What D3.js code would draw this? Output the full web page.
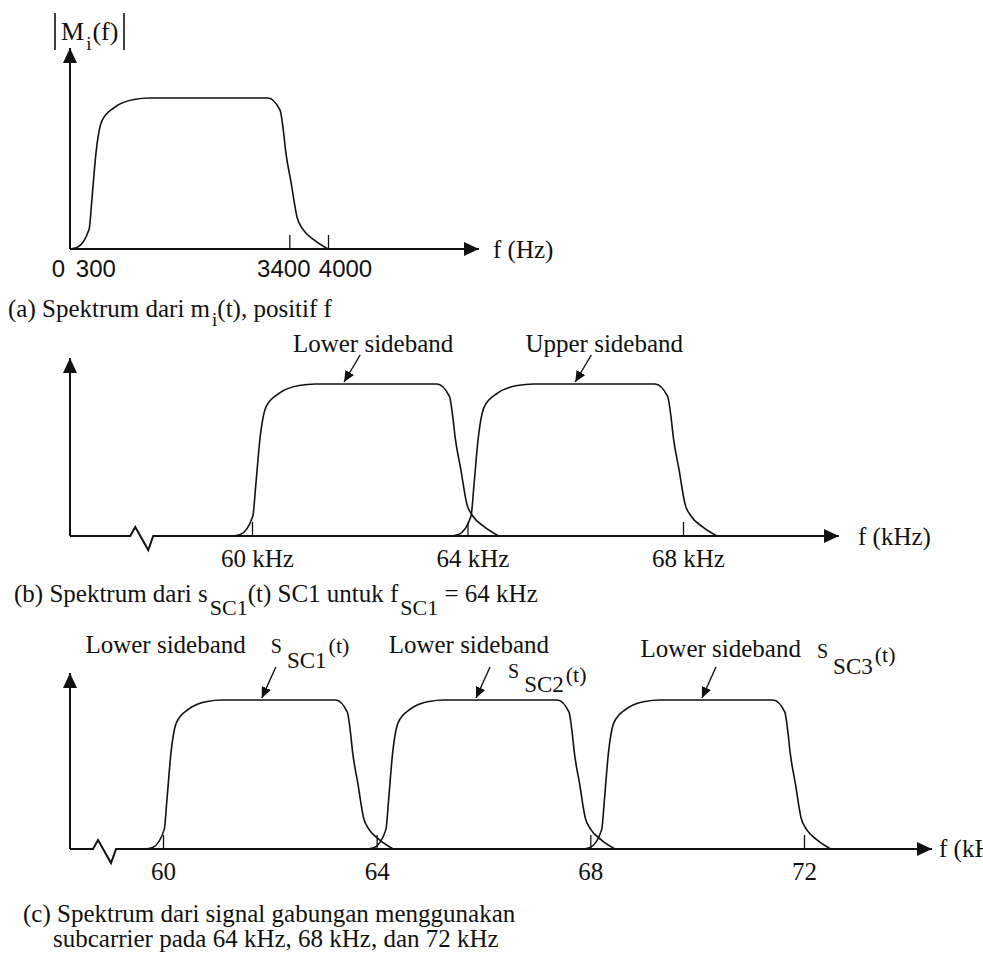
<!DOCTYPE html>
<html>
<head>
<meta charset="utf-8">
<script src="https://cdn.jsdelivr.net/npm/d3@7"></script>
<style>
  html, body { margin: 0; padding: 0; background: #fff; }
  svg { display: block; }
  text { font-family: "Liberation Serif", "DejaVu Serif", serif; fill: #111; white-space: pre; }
</style>
</head>
<body>
<svg id="chart" width="983" height="972"></svg>
<script>
// Baseband voice channel |M_i(f)|, positive f (Hz, relative magnitude)
const basebandHz = [0, 110, 296, 340, 404, 496, 696, 992, 1240, 3068, 3256, 3312, 3340, 3428, 3520, 3612, 3784, 4000];
const basebandAmp = [0, 0.01, 0.13, 0.33, 0.64, 0.85, 0.94, 0.99, 1, 1, 0.92, 0.77, 0.66, 0.44, 0.21, 0.13, 0.06, 0];
const basebandTicks = [3400, 4000];
const basebandLabelValues = [0, 300, 3400, 4000];
const basebandTickLabels = ['0', '300', '3400', '4000'];

// (b) one channel on the 64 kHz subcarrier (kHz)
const sc1BandStart = [59.65, 63.7];
const sc1BandWidth = 4.93;
const sc1Ticks = [60, 64, 68];
const sc1TickLabels = ['60 kHz', '64 kHz', '68 kHz'];
const sc1Notes = ['Lower sideband', 'Upper sideband'];
const sc1NoteAt = [61.71, 66.0];

// (c) three channels multiplexed (kHz)
const fdmBandStart = [59.68, 63.83, 67.87];
const fdmBandWidth = 4.63;
const fdmTicks = [60, 64, 68, 72];
const fdmTickLabels = ['60', '64', '68', '72'];
const fdmSubcarriers = ['SC1', 'SC2', 'SC3'];
const fdmNoteAt = [61.85, 65.86, 70.09];

const svg = d3.select('#chart');
const ink = '#111';

const defs = svg.append('defs');
function addHead(id, len, half) {
  defs.append('marker')
    .attr('id', id)
    .attr('viewBox', `0 0 ${len} ${half * 2}`)
    .attr('refX', len).attr('refY', half)
    .attr('markerWidth', len).attr('markerHeight', half * 2)
    .attr('markerUnits', 'userSpaceOnUse')
    .attr('orient', 'auto')
    .append('path')
    .attr('d', `M0,0L${len},${half}L0,${half * 2}Z`)
    .attr('fill', ink);
}
addHead('axisHead', 15, 7);
addHead('noteHead', 11, 5);

// one spectrum band, baseband shape stretched over [start, start + width]
function bandPath(x, y, start, width) {
  return d3.line()
    .x((f) => x(start + (f / 4000) * width))
    .y((f, i) => y(basebandAmp[i]))
    .curve(d3.curveMonotoneX)(basebandHz);
}

function drawFrame(g, o) {
  g.append('line')
    .attr('x1', o.left).attr('x2', o.left)
    .attr('y1', o.base).attr('y2', o.yTip)
    .attr('stroke', ink).attr('stroke-width', 2)
    .attr('marker-end', 'url(#axisHead)');

  const p = d3.path();
  p.moveTo(o.left, o.base);
  if (o.breakX != null) {
    p.lineTo(o.breakX, o.base);
    p.lineTo(o.breakX + 5, o.base - 9);
    p.lineTo(o.breakX + 18, o.base + 14);
    p.lineTo(o.breakX + 23, o.base);
  }
  p.lineTo(o.xTip, o.base);
  g.append('path')
    .attr('d', p.toString())
    .attr('fill', 'none')
    .attr('stroke', ink).attr('stroke-width', 2)
    .attr('marker-end', 'url(#axisHead)');
}

function drawTicks(g, x, base, values, labels, pad, font, size) {
  const ax = g.append('g')
    .attr('transform', `translate(0,${base})`)
    .attr('color', ink)
    .call(d3.axisBottom(x).tickValues(values)
      .tickFormat((d, i) => labels[i])
      .tickSize(-14).tickPadding(pad));
  ax.select('.domain').remove();
  ax.selectAll('line').attr('stroke-width', 1.3);
  ax.selectAll('text')
    .style('font-family', font)
    .style('font-size', size + 'px')
    .attr('fill', ink);
  return ax;
}

function drawBand(g, x, y, start, width) {
  g.append('path')
    .attr('d', bandPath(x, y, start, width))
    .attr('fill', 'none')
    .attr('stroke', ink)
    .attr('stroke-width', 1.6);
}

function drawPointer(g, x1, y1, x2, y2) {
  g.append('line')
    .attr('x1', x1).attr('y1', y1).attr('x2', x2).attr('y2', y2)
    .attr('stroke', ink).attr('stroke-width', 1.4)
    .attr('marker-end', 'url(#noteHead)');
}

// ---------- (a) baseband ----------
{
  const g = svg.append('g');
  const x = d3.scaleLinear().domain([0, 4000]).range([70, 328]);
  const y = d3.scaleLinear().domain([0, 1]).range([249, 98]);

  drawFrame(g, { left: 70, base: 249, yTip: 48, xTip: 479 });
  drawBand(g, x, y, 0, 4000);

  const ax = drawTicks(g, x, 249, basebandLabelValues, basebandTickLabels, 11,
    '"Liberation Sans", Arial, sans-serif', 24);
  ax.selectAll('.tick').filter((d) => !basebandTicks.includes(d)).select('line').remove();
  const nudge = { 0: -12, 300: 6, 3400: -6, 4000: 17 };
  ax.selectAll('text').attr('dx', (d) => nudge[d]);

  // |M_i(f)|
  g.append('line').attr('x1', 55).attr('x2', 55).attr('y1', 13).attr('y2', 50)
    .attr('stroke', ink).attr('stroke-width', 1.6);
  g.append('line').attr('x1', 124).attr('x2', 124).attr('y1', 13).attr('y2', 50)
    .attr('stroke', ink).attr('stroke-width', 1.6);
  const m = g.append('text').attr('x', 61).attr('y', 40).style('font-size', '26px');
  m.append('tspan').text('M');
  m.append('tspan').attr('dy', 10).attr('dx', 2).style('font-size', '19px').text('i');
  m.append('tspan').attr('dy', -10).attr('dx', 1).text('(f)');

  g.append('text').attr('x', 493).attr('y', 258).style('font-size', '25px').text('f (Hz)');

  const cap = g.append('text').attr('x', 8).attr('y', 317).style('font-size', '25px');
  cap.append('tspan').text('(a) Spektrum dari m');
  cap.append('tspan').attr('dy', 9).attr('dx', 2).style('font-size', '19px').text('i');
  cap.append('tspan').attr('dy', -9).text('(t), positif f');
}

// ---------- (b) SSB, subcarrier 64 kHz ----------
{
  const g = svg.append('g');
  const x = d3.scaleLinear().domain([60, 68]).range([252, 683]);
  const y = d3.scaleLinear().domain([0, 1]).range([536, 384]);

  drawFrame(g, { left: 70, base: 536, yTip: 358, xTip: 839, breakX: x(57.74) });
  sc1BandStart.forEach((s) => drawBand(g, x, y, s, sc1BandWidth));

  const ax = drawTicks(g, x, 536, sc1Ticks, sc1TickLabels, 13,
    '"Liberation Serif", serif', 25);
  ax.selectAll('text').attr('dx', 5);

  sc1NoteAt.forEach((f, i) => {
    const ex = x(f), ey = y(1) - 2;
    drawPointer(g, ex + 16, ey - 27, ex, ey);
    g.append('text')
      .attr('x', ex + 29).attr('y', ey - 30)
      .attr('text-anchor', 'middle')
      .style('font-size', '25px')
      .text(sc1Notes[i]);
  });

  g.append('text').attr('x', 858).attr('y', 545).style('font-size', '25px').text('f (kHz)');

  const cap = g.append('text').attr('x', 14).attr('y', 602).style('font-size', '25px');
  cap.append('tspan').text('(b) Spektrum dari s');
  cap.append('tspan').attr('dy', 13).attr('dx', 2).style('font-size', '22px').text('SC1');
  cap.append('tspan').attr('dy', -13).text('(t) SC1 untuk f');
  cap.append('tspan').attr('dy', 13).attr('dx', 2).style('font-size', '22px').text('SC1');
  cap.append('tspan').attr('dy', -13).text(' = 64 kHz');
}

// ---------- (c) three channels ----------
{
  const g = svg.append('g');
  const x = d3.scaleLinear().domain([60, 72]).range([163, 804]);
  const y = d3.scaleLinear().domain([0, 1]).range([849, 700]);

  drawFrame(g, { left: 70, base: 849, yTip: 673, xTip: 932, breakX: x(58.69) });
  fdmBandStart.forEach((s) => drawBand(g, x, y, s, fdmBandWidth));

  drawTicks(g, x, 849, fdmTicks, fdmTickLabels, 13, '"Liberation Serif", serif', 25);

  // label layout per channel, offsets from the pointer tip
  const layout = [
    { lx: -16, ly: -45, anchor: 'end', sx: 9, sy: -45, sub: 15, back: -15 },
    { lx: 73, ly: -45, anchor: 'end', sx: 32, sy: -20, sub: 14, back: -10 },
    { lx: 99, ly: -41, anchor: 'end', sx: 115, sy: -40, sub: 16, back: -12 }
  ];
  fdmNoteAt.forEach((f, i) => {
    const ex = x(f), ey = y(1) - 2, L = layout[i];
    drawPointer(g, ex + 14, ey - 31, ex, ey);
    g.append('text')
      .attr('x', ex + L.lx).attr('y', ey + L.ly)
      .attr('text-anchor', L.anchor)
      .style('font-size', '25px')
      .text('Lower sideband');
    const s = g.append('text')
      .attr('x', ex + L.sx).attr('y', ey + L.sy)
      .style('font-size', '20px');
    s.append('tspan').text('S');
    s.append('tspan').attr('dx', 5).attr('dy', L.sub).style('font-size', '23px').text(fdmSubcarriers[i]);
    s.append('tspan').attr('dx', 2).attr('dy', L.back).style('font-size', '22px').text('(t)');
  });

  // axis title runs past the right edge, as in the original figure
  g.append('text').attr('x', 939).attr('y', 857).style('font-size', '25px').text('f (kHz)');

  g.append('text').attr('x', 23).attr('y', 922).style('font-size', '25px')
    .text('(c) Spektrum dari signal gabungan menggunakan');
  g.append('text').attr('x', 53).attr('y', 947).style('font-size', '25px')
    .text('subcarrier pada 64 kHz, 68 kHz, dan 72 kHz');
}
</script>
</body>
</html>
